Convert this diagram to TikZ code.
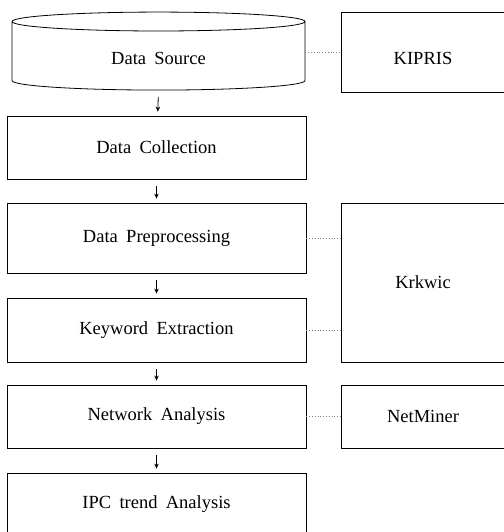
\documentclass[tikz,border=0pt]{standalone}
\usepackage{fontspec}
\setmainfont{Liberation Serif}[WordSpace=1.8]
\usetikzlibrary{arrows.meta,positioning,shapes.geometric}

\begin{document}
\begin{tikzpicture}[
    x=1pt, y=-1pt,
    every node/.style={font=\fontsize{18.5}{22}\selectfont},
    box/.style={draw, line width=0.8pt, minimum width=299pt, inner sep=0pt},
    tool/.style={draw, line width=0.8pt, minimum width=164pt, inner sep=0pt},
    db/.style={draw, line width=0.8pt, cylinder, shape border rotate=90, aspect=0.2,
               minimum width=293pt, minimum height=78pt, inner sep=0pt},
    arr/.style={-{Stealth[length=5pt,width=4.5pt]}, line width=0.8pt, shorten <=7pt, shorten >=4pt},
    link/.style={dotted, gray, line width=0.8pt}
  ]
  \useasboundingbox (0,0) rectangle (503,532);

  % process steps
  \node[db, text height=20pt, text depth=2pt] (src) at (158.5,56) {Data Source};
  \node[box, minimum height=63pt] (coll) at (156.5,147.5) {Data Collection};
  \node[box, minimum height=70pt] (prep) at (156.5,238)   {Data Preprocessing};
  \node[box, minimum height=64pt] (kw)   at (156.5,330)   {Keyword Extraction};
  \node[box, minimum height=63pt] (net)  at (156.5,416.5) {Network Analysis};
  \node[box, minimum height=63pt] (ipc)  at (156.5,504.5) {IPC trend Analysis};

  % tools
  \node[tool, minimum height=80pt, text height=28pt, text depth=2pt] (kipris) at (423,52) {KIPRIS};
  \node[tool, minimum height=159pt] (krk)    at (423,282.5) {Krkwic};
  \node[tool, minimum height=63pt]  (nm)     at (423,416.5) {NetMiner};

  \draw[arr] (src.south |- 0,90) -- (coll);
  \draw[arr] (coll) -- (prep);
  \draw[arr] (prep) -- (kw);
  \draw[arr] (kw) -- (net);
  \draw[arr] (net) -- (ipc);

  \draw[link] (src.east |- kipris) -- (kipris.west);
  \draw[link] (prep.east) -- (prep.east -| krk.west);
  \draw[link] (kw.east) -- (kw.east -| krk.west);
  \draw[link] (net.east) -- (nm.west);
\end{tikzpicture}
\end{document}
